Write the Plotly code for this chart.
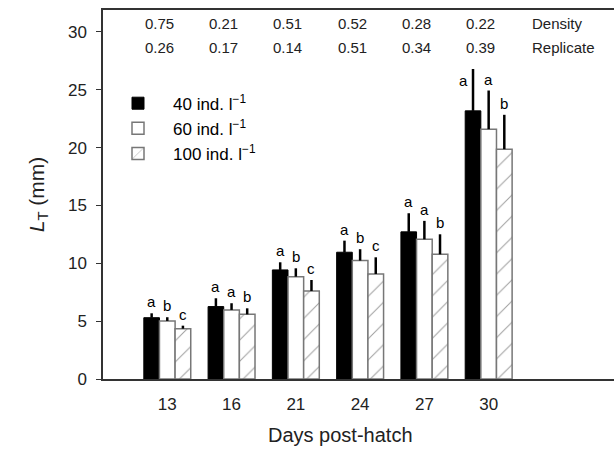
import plotly.graph_objects as go

days = ["13", "16", "21", "24", "27", "30"]
series_names = ["40 ind. l<sup>−1</sup>", "60 ind. l<sup>−1</sup>", "100 ind. l<sup>−1</sup>"]
lt_40 = [5.3, 6.26, 9.43, 10.96, 12.72, 23.18]
lt_60 = [5.02, 5.97, 8.85, 10.24, 12.08, 21.6]
lt_100 = [4.35, 5.59, 7.61, 9.08, 10.78, 19.87]
sd_40 = [0.38, 0.72, 0.66, 1.0, 1.61, 3.62]
sd_60 = [0.32, 0.58, 0.72, 0.98, 1.59, 3.34]
sd_100 = [0.26, 0.52, 0.95, 1.44, 1.73, 2.97]
letters_40 = ["a", "a", "a", "a", "a", "a"]
letters_60 = ["b", "a", "b", "b", "a", "a"]
letters_100 = ["c", "b", "c", "c", "b", "b"]
p_density = ["0.75", "0.21", "0.51", "0.52", "0.28", "0.22"]
p_replicate = ["0.26", "0.17", "0.14", "0.51", "0.34", "0.39"]

FONT = "Liberation Sans, Arial, Helvetica, sans-serif"
values = [lt_40, lt_60, lt_100]
errs = [sd_40, sd_60, sd_100]
letters = [letters_40, letters_60, letters_100]

styles = [
    dict(color="black", line=dict(color="black", width=1)),
    dict(color="white", line=dict(color="#777", width=1.5)),
    dict(color="white", line=dict(color="#777", width=1.5),
         pattern=dict(shape="/", fgcolor="#444", bgcolor="white", size=15, solidity=0.07)),
]

fig = go.Figure()
for i in range(3):
    fig.add_trace(go.Bar(
        x=days, y=values[i], name=series_names[i], marker=styles[i],
        error_y=dict(type="data", symmetric=False, array=errs[i],
                     arrayminus=[0] * len(days), width=0, thickness=2.5, color="black"),
    ))

bargap = 0.27
bw = (1 - bargap) / 3
annotations = []
for i in range(3):
    off = (i - 1) * bw
    for j, d in enumerate(days):
        top = values[i][j] + errs[i][j]
        xs = 0
        ys = 1
        if i == 0 and j == len(days) - 1:
            xs = -10
            ys = -22
        annotations.append(dict(x=j + off, y=top, text=letters[i][j], showarrow=False,
                                xanchor="center", yanchor="bottom", xshift=xs, yshift=ys,
                                font=dict(family=FONT, size=15, color="black")))

for j in range(len(days)):
    annotations.append(dict(x=j, y=30.7, text=p_density[j], showarrow=False,
                            xanchor="center", yanchor="middle", xshift=-8,
                            font=dict(family=FONT, size=15, color="#222")))
    annotations.append(dict(x=j, y=28.7, text=p_replicate[j], showarrow=False,
                            xanchor="center", yanchor="middle", xshift=-8,
                            font=dict(family=FONT, size=15, color="#222")))
annotations.append(dict(x=5.64, y=30.7, text="Density", showarrow=False, xanchor="left",
                        yanchor="middle", font=dict(family=FONT, size=15, color="#222")))
annotations.append(dict(x=5.64, y=28.7, text="Replicate", showarrow=False, xanchor="left",
                        yanchor="middle", font=dict(family=FONT, size=15, color="#222")))
annotations.append(dict(xref="paper", yref="paper", x=0.464, y=-0.153, text="Days post-hatch",
                        showarrow=False, xanchor="center", yanchor="middle",
                        font=dict(family=FONT, size=20, color="#222")))

fig.update_layout(
    width=614, height=452,
    margin=dict(l=103, r=0, t=10, b=73),
    paper_bgcolor="white", plot_bgcolor="white",
    barmode="group", bargap=bargap, bargroupgap=0,
    font=dict(family=FONT, color="#222"),
    showlegend=True,
    legend=dict(x=0.0, y=0.795, xanchor="left", yanchor="top",
                bgcolor="rgba(0,0,0,0)", font=dict(family=FONT, size=17, color="black"),
                tracegroupgap=0, itemwidth=60),
    annotations=annotations,
)
fig.update_xaxes(range=[-1, 6.95], showline=True, linecolor="#333", linewidth=1.5,
                 mirror=True, ticks="", showgrid=False,
                 tickfont=dict(family=FONT, size=17, color="#222"), ticklabelstandoff=9)
fig.update_yaxes(range=[0, 31.9], showline=True, linecolor="#333", linewidth=1.5,
                 ticks="outside", ticklen=5, tickwidth=1.2, tickcolor="#333",
                 tickvals=[0, 5, 10, 15, 20, 25, 30], showgrid=False, zeroline=False,
                 tickfont=dict(family=FONT, size=17, color="#222"), ticklabelstandoff=6,
                 title=dict(text="<i>L</i><sub>T</sub> (mm)", standoff=18,
                            font=dict(family=FONT, size=21, color="#222")))

fig.write_html("out.html")
